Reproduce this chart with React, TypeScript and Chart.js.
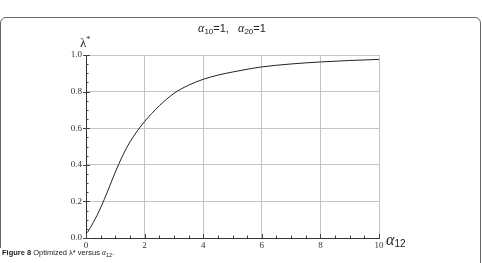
import React, { useEffect, useRef } from "react";
import { Chart, registerables } from "chart.js";

Chart.register(...registerables);

const alpha12 = [0.05, 0.25, 0.5, 0.75, 1.0, 1.25, 1.5, 1.75, 2.0, 2.5, 3.0, 3.5, 4.0, 4.5, 5.0, 5.5, 6.0, 7.0, 8.0, 9.0, 10.0];
const lambdaStar = [0.03, 0.085, 0.165, 0.26, 0.36, 0.45, 0.525, 0.585, 0.637, 0.722, 0.79, 0.835, 0.867, 0.89, 0.907, 0.922, 0.935, 0.951, 0.962, 0.97, 0.976];
const xTickLabels = ["0", "2", "4", "6", "8", "10"];
const yTickLabels = ["0.0", "0.2", "0.4", "0.6", "0.8", "1.0"];

const isMult = (v: number, step: number) => Math.abs(v / step - Math.round(v / step)) < 1e-6;

const minorTicks = {
  id: "minorTicks",
  afterDraw(chart: any) {
    const { ctx, chartArea, scales } = chart;
    ctx.save();
    ctx.strokeStyle = "#444";
    ctx.lineWidth = 1;
    scales.y.ticks.forEach((t: any) => {
      const py = Math.round(scales.y.getPixelForValue(t.value)) + 0.5;
      const major = isMult(t.value, 0.2);
      ctx.beginPath();
      ctx.moveTo(chartArea.left - (major ? 3 : 0), py);
      ctx.lineTo(chartArea.left + (major ? 4 : 2.5), py);
      ctx.stroke();
    });
    scales.x.ticks.forEach((t: any) => {
      const px = Math.round(scales.x.getPixelForValue(t.value)) + 0.5;
      const major = isMult(t.value, 2);
      ctx.beginPath();
      ctx.moveTo(px, chartArea.bottom);
      ctx.lineTo(px, chartArea.bottom - (major ? 4 : 2.5));
      ctx.stroke();
    });
    ctx.restore();
  },
};

export default function App() {
  const ref = useRef<HTMLCanvasElement>(null);
  useEffect(() => {
    if (!ref.current) return;
    const chart = new Chart(ref.current, {
      type: "line",
      data: {
        datasets: [
          {
            data: alpha12.map((x, i) => ({ x, y: lambdaStar[i] })),
            borderColor: "#222",
            borderWidth: 1,
            pointRadius: 0,
            cubicInterpolationMode: "monotone",
            fill: false,
          },
        ],
      },
      options: {
        animation: false,
        responsive: false,
        events: [],
        layout: { padding: { left: 0, top: 55, right: 103, bottom: 0 } },
        plugins: { legend: { display: false }, tooltip: { enabled: false }, title: { display: false } },
        scales: {
          x: {
            type: "linear",
            min: 0,
            max: 10,
            afterFit: (s: any) => { s.height = 25; },
            ticks: {
              stepSize: 0.5,
              autoSkip: false,
              maxRotation: 0,
              padding: 2,
              color: "#333",
              font: { family: "Liberation Serif", size: 9 },
              callback: (v: any) => {
                const n = Number(v);
                if (!isMult(n, 2)) return "";
                return xTickLabels[Math.round(n / 2)];
              },
            },
            grid: {
              drawTicks: false,
              color: (c: any) => (c.tick && isMult(c.tick.value, 2) && c.tick.value > 0 ? "#c4c4c4" : "rgba(0,0,0,0)"),
              lineWidth: 1,
            },
            border: { display: true, color: "#333", width: 1 },
          },
          y: {
            type: "linear",
            min: 0,
            max: 1,
            afterFit: (s: any) => { s.width = 86; },
            ticks: {
              stepSize: 0.05,
              autoSkip: false,
              padding: 4,
              color: "#333",
              font: { family: "Liberation Serif", size: 9 },
              callback: (v: any) => {
                const n = Number(v);
                if (!isMult(n, 0.2)) return "";
                return yTickLabels[Math.round(n / 0.2)];
              },
            },
            grid: {
              drawTicks: false,
              color: (c: any) => (c.tick && isMult(c.tick.value, 0.2) && c.tick.value > 0.001 ? "#c4c4c4" : "rgba(0,0,0,0)"),
              lineWidth: 1,
            },
            border: { display: true, color: "#333", width: 1 },
          },
        },
      },
      plugins: [minorTicks],
    });
    return () => chart.destroy();
  }, []);

  const serif = "'Liberation Serif', serif";
  const sans = "'Liberation Sans', Arial, sans-serif";

  return (
    <div style={{ position: "absolute", left: 0, top: 0, width: 482, height: 263, background: "#fff", overflow: "hidden" }}>
      <div
        style={{
          position: "absolute",
          left: 0,
          top: 17,
          width: 479,
          height: 260,
          border: "1px solid #666",
          borderRadius: 6,
          boxSizing: "content-box",
        }}
      />
      <canvas ref={ref} width={482} height={263} style={{ position: "absolute", left: 0, top: 0 }} />
      <div style={{ position: "absolute", left: 0, top: 22, width: 464, textAlign: "center", fontFamily: sans, fontSize: 11, color: "#222", lineHeight: "12px", whiteSpace: "pre" }}>
        <span style={{ fontFamily: serif, fontStyle: "italic", fontSize: 12 }}>α</span>
        <span style={{ fontSize: 8, position: "relative", top: 2 }}>10</span>
        <span>=1,   </span>
        <span style={{ fontFamily: serif, fontStyle: "italic", fontSize: 12 }}>α</span>
        <span style={{ fontSize: 8, position: "relative", top: 2 }}>20</span>
        <span>=1</span>
      </div>
      <div style={{ position: "absolute", left: 80, top: 36, fontFamily: serif, fontSize: 13, color: "#222", lineHeight: "14px" }}>
        λ<span style={{ fontSize: 8, position: "relative", top: -5 }}>*</span>
      </div>
      <div style={{ position: "absolute", left: 386, top: 232, fontFamily: serif, fontStyle: "italic", fontSize: 16, color: "#222", lineHeight: "16px" }}>
        α<span style={{ fontFamily: sans, fontStyle: "normal", fontSize: 10, position: "relative", top: 2 }}>12</span>
      </div>
      <div style={{ position: "absolute", left: 0, top: 248, width: 240, height: 16, background: "#fff" }} />
      <div style={{ position: "absolute", left: 2, top: 248, fontFamily: sans, fontSize: 7.5, color: "#222", lineHeight: "10px", whiteSpace: "nowrap" }}>
        <b>Figure 8</b> Optimized λ* versus <span style={{ fontFamily: serif, fontStyle: "italic" }}>α</span>
        <span style={{ fontSize: 5.5, position: "relative", top: 1.5 }}>12</span>.
      </div>
    </div>
  );
}
